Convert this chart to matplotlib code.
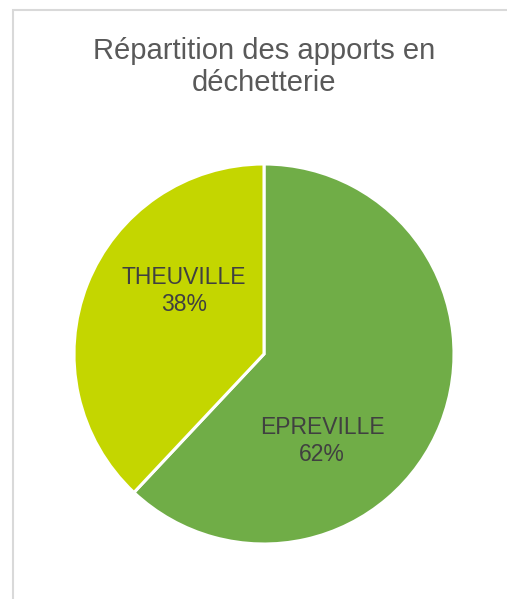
import matplotlib
matplotlib.use("Agg")
import matplotlib.pyplot as plt
from matplotlib.patches import Rectangle

plt.rcParams['font.family'] = ['Liberation Sans', 'DejaVu Sans']

title = "Répartition des apports en\ndéchetterie"
labels = ["EPREVILLE", "THEUVILLE"]
values = [62, 38]
colors = ["#70AD47", "#C4D600"]

W, H = 507, 599
fig = plt.figure(figsize=(W / 100, H / 100), dpi=100)
ax = fig.add_axes([0, 0, 1, 1])
ax.axis('off')

# chart frame (open at bottom and right like the screenshot)
ax.add_patch(Rectangle((12.5, -20), W, H - 9.5 + 20, fill=False,
                       edgecolor="#D9D9D9", linewidth=1.5))

cx, cy, r = 264, H - 354, 190
wedges, _ = ax.pie(values, colors=colors, startangle=90, counterclock=False,
                   center=(cx, cy), radius=r,
                   wedgeprops=dict(edgecolor="white", linewidth=2.2))
ax.set_aspect('equal')
ax.set_xlim(0, W)
ax.set_ylim(0, H)

# label offsets from pie centre (Excel best-fit placement)
label_pos = [(58, -87), (-80, 63)]
for lab, v, (dx, dy) in zip(labels, values, label_pos):
    ax.text(cx + dx, cy + dy, f"{lab}\n{v}%", ha="center", va="center",
            fontsize=16.5, color="#404040", linespacing=1.2)

ax.text(264, H - 67, title, ha="center", va="center", fontsize=21,
        color="#595959", linespacing=1.22)

fig.savefig("out.png", dpi=100)
